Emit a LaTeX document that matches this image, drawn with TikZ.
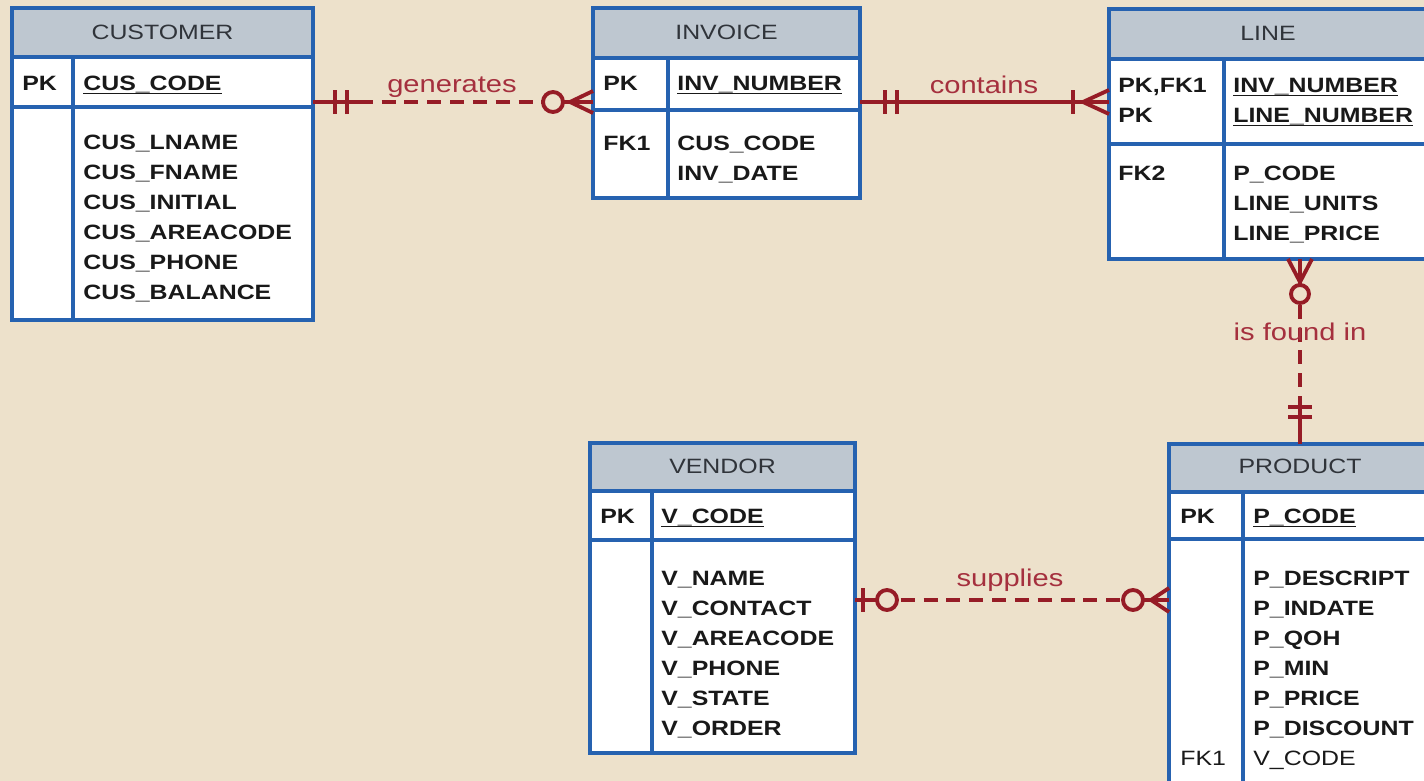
\documentclass[tikz,border=0pt]{standalone}
\usepackage{fontspec}
\setmainfont{Liberation Sans}[FakeStretch=1.2]
\usetikzlibrary{positioning}

\definecolor{erbg}{RGB}{237,225,203}
\definecolor{erhead}{RGB}{190,199,208}
\definecolor{erblue}{RGB}{38,98,176}
\definecolor{errel}{RGB}{150,28,38}
\definecolor{erlab}{RGB}{165,48,62}
\definecolor{ertxt}{RGB}{25,25,25}
\definecolor{erhdtxt}{RGB}{48,52,58}

% underline for key columns
\newcommand\erul[1]{\setbox0\hbox{#1}\rlap{\rule[-2.4pt]{\wd0}{0.9pt}}\box0}

\tikzset{
	tblhead/.style={fill=erhead, draw=erblue, line width=1.8pt},
	tblbody/.style={fill=white, draw=erblue, line width=1.8pt},
	tblline/.style={draw=erblue, line width=1.8pt},
	tblname/.style={font=\fontsize{11.8}{14}\selectfont, text=erhdtxt, inner sep=0pt},
	keytxt/.style={font=\fontsize{11.8}{14}\selectfont\bfseries, text=ertxt, anchor=base west, inner sep=0pt},
	attr/.style={keytxt},
	fktxt/.style={keytxt, font=\fontsize{11.8}{14}\selectfont},
	rel/.style={draw=errel, line width=2.2pt},
	reldash/.style={rel, dash pattern=on 8pt off 5pt},
	relname/.style={font=\fontsize{13.8}{16}\selectfont, text=erlab, inner sep=0pt}
}

\begin{document}
\begin{tikzpicture}[x=0.02cm, y=-0.02cm]
	
	\path[use as bounding box, fill=erbg] (0,0) rectangle (1424,781);
	\clip (0,0) rectangle (1424,781);
	
	% CUSTOMER
	\draw[tblhead] (12,8) rectangle (313,57);
	\draw[tblbody] (12,57) rectangle (313,320);
	\draw[tblline] (12,107) -- (313,107) (73,57) -- (73,320);
	\node[tblname] (cus) at (162.5,32) {CUSTOMER};
	\node[keytxt] (cuspk) at (22,90) {PK};
	\node[attr] (cuscode) at (83,90) {\erul{CUS\_CODE}};
	\foreach \a [count=\i from 0] in {CUS\_LNAME,CUS\_FNAME,CUS\_INITIAL,CUS\_AREACODE,CUS\_PHONE,CUS\_BALANCE}
		\node[attr] (cus\i) at (83,149+30*\i) {\a};
	
	% INVOICE
	\draw[tblhead] (593,8) rectangle (860,58);
	\draw[tblbody] (593,58) rectangle (860,198);
	\draw[tblline] (593,110) -- (860,110) (668,58) -- (668,198);
	\node[tblname] (inv) at (726.5,32) {INVOICE};
	\node[keytxt] (invpk) at (603,90) {PK};
	\node[attr] (invnum) at (677,90) {\erul{INV\_NUMBER}};
	\node[keytxt] (invfk) at (603,150) {FK1};
	\node[attr] (invcus) at (677,150) {CUS\_CODE};
	\node[attr] (invdate) at (677,180) {INV\_DATE};
	
	% LINE
	\draw[tblhead] (1109,9) rectangle (1430,59);
	\draw[tblbody] (1109,59) rectangle (1430,259);
	\draw[tblline] (1109,144) -- (1430,144) (1224,59) -- (1224,259);
	\node[tblname] (lin) at (1268,33) {LINE};
	\node[keytxt] (linpk) at (1118,92) {PK,FK1};
	\node[keytxt] (linpk2) at (1118,122) {PK};
	\node[attr] (linnum) at (1233,92) {\erul{INV\_NUMBER}};
	\node[attr] (linnum2) at (1233,122) {\erul{LINE\_NUMBER}};
	\node[keytxt] (linfk) at (1118,180) {FK2};
	\foreach \a [count=\i from 0] in {P\_CODE,LINE\_UNITS,LINE\_PRICE}
		\node[attr] (lin\i) at (1233,180+30*\i) {\a};
	
	% VENDOR
	\draw[tblhead] (590,443) rectangle (855,491);
	\draw[tblbody] (590,491) rectangle (855,753);
	\draw[tblline] (590,540) -- (855,540) (652,491) -- (652,753);
	\node[tblname] (ven) at (722.5,466) {VENDOR};
	\node[keytxt] (venpk) at (600,523) {PK};
	\node[attr] (vencode) at (661,523) {\erul{V\_CODE}};
	\foreach \a [count=\i from 0] in {V\_NAME,V\_CONTACT,V\_AREACODE,V\_PHONE,V\_STATE,V\_ORDER}
		\node[attr] (ven\i) at (661,585+30*\i) {\a};
	
	% PRODUCT
	\draw[tblhead] (1169,444) rectangle (1431,492);
	\draw[tblbody] (1169,492) rectangle (1431,800);
	\draw[tblline] (1169,539) -- (1431,539) (1243,492) -- (1243,800);
	\node[tblname] (prd) at (1300,466) {PRODUCT};
	\node[keytxt] (prdpk) at (1180,523) {PK};
	\node[attr] (prdcode) at (1253,523) {\erul{P\_CODE}};
	\foreach \a [count=\i from 0] in {P\_DESCRIPT,P\_INDATE,P\_QOH,P\_MIN,P\_PRICE,P\_DISCOUNT}
		\node[attr] (prd\i) at (1253,585+30*\i) {\a};
	\node[fktxt] (prdfk) at (1180,765) {FK1};
	\node[fktxt] (prdven) at (1253,765) {V\_CODE};
	
	% generates
	\coordinate (cusR) at (313,102);
	\coordinate (invL) at (593,102);
	\draw[reldash] (cusR) -- (invL);
	\draw[rel] (cusR) -- ++(50,0);
	\draw[rel] (cusR) ++(22,-12) -- ++(0,24) ++(12,0) -- ++(0,-24);
	\draw[rel] (invL) -- ++(-30,0);
	\draw[rel, fill=erbg] (invL) ++(-40,0) circle[radius=10];
	\draw[rel] (invL) ++(0,-11) -- ++(-23,11) -- ++(23,11);
	\node[relname] (gen) at (452,87) {generates};
	
	% contains
	\coordinate (invR) at (860,102);
	\coordinate (linL) at (1109,102);
	\draw[rel] (invR) -- (linL);
	\draw[rel] (invR) ++(25,-12) -- ++(0,24) ++(12,0) -- ++(0,-24);
	\draw[rel] (linL) ++(-36,-12) -- ++(0,24);
	\draw[rel] (linL) ++(0,-12) -- ++(-26,12) -- ++(26,12);
	\node[relname] (con) at (984,85) {contains};
	
	% is found in
	\coordinate (linB) at (1300,259);
	\coordinate (prdT) at (1300,444);
	\draw[reldash] (linB) -- (prdT);
	\draw[rel] (linB) -- ++(0,25);
	\draw[rel] (linB) ++(-12,0) -- ++(12,23) -- ++(12,-23);
	\draw[rel, fill=erbg] (linB) ++(0,35) circle[radius=9];
	\draw[rel] (prdT) -- ++(0,-46);
	\draw[rel] (prdT) ++(-12,-37) -- ++(24,0) ++(0,10) -- ++(-24,0);
	\node[relname] (fnd) at (1300,332) {is found in};
	
	% supplies
	\coordinate (venR) at (855,600);
	\coordinate (prdL) at (1169,600);
	\draw[reldash] (venR) -- (prdL);
	\draw[rel] (venR) -- ++(30,0);
	\draw[rel] (venR) ++(8,-12) -- ++(0,24);
	\draw[rel, fill=erbg] (venR) ++(32,0) circle[radius=10];
	\draw[rel] (prdL) -- ++(-30,0);
	\draw[rel, fill=erbg] (prdL) ++(-36,0) circle[radius=10];
	\draw[rel] (prdL) ++(0,-12) -- ++(-18,12) -- ++(18,12);
	\node[relname] (sup) at (1010,580) {supplies};
	
\end{tikzpicture}
\end{document}
